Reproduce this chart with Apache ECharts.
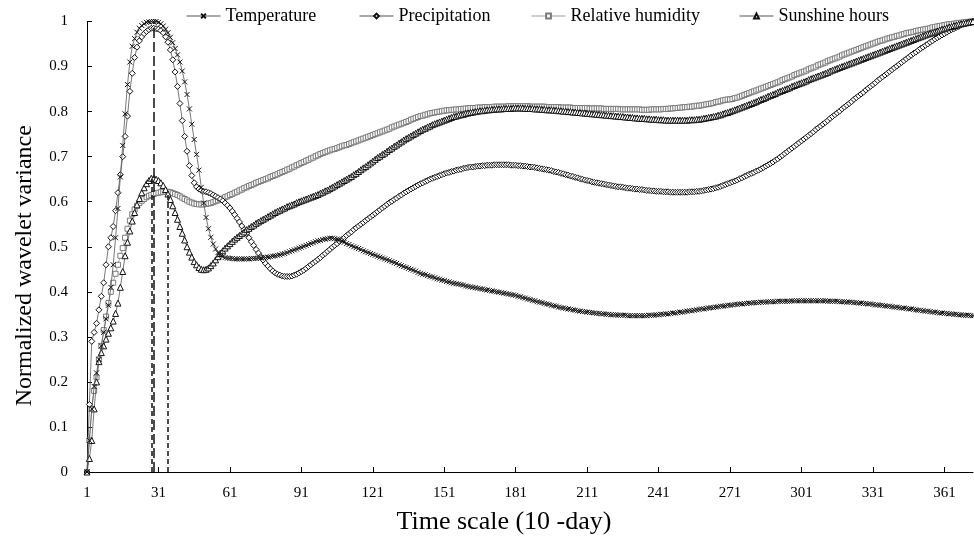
<!DOCTYPE html>
<html>
<head>
<meta charset="utf-8">
<script src="https://cdn.jsdelivr.net/npm/echarts@6/dist/echarts.min.js"></script>
<style>
  html, body { margin: 0; padding: 0; background: #ffffff; }
  #chart { width: 974px; height: 538px; }
</style>
</head>
<body>
<div id="chart"></div>
<script>
// Time scale in 10-day units: 1 .. 373
const timeScale = Array.from({ length: 373 }, (_, i) => String(i + 1));
const xTickLabels = ['1', '31', '61', '91', '121', '151', '181', '211', '241', '271', '301', '331', '361'];

// Normalized wavelet variance per climate variable
const temperature = [
  0, 0.07, 0.14, 0.19, 0.22, 0.25, 0.28, 0.31, 0.34, 0.37,
  0.41, 0.46, 0.52, 0.585, 0.655, 0.725, 0.795, 0.86, 0.91, 0.945,
  0.962, 0.976, 0.985, 0.991, 0.995, 0.998, 0.999, 1.0, 1.0, 1.0,
  0.998, 0.995, 0.99, 0.983, 0.975, 0.965, 0.953, 0.94, 0.926, 0.91,
  0.89, 0.866, 0.838, 0.806, 0.772, 0.738, 0.705, 0.67, 0.632, 0.597,
  0.565, 0.54, 0.521, 0.506, 0.495, 0.487, 0.482, 0.478, 0.476, 0.475,
  0.474, 0.474, 0.473, 0.473, 0.473, 0.473, 0.473, 0.473, 0.473, 0.474,
  0.474, 0.474, 0.475, 0.475, 0.476, 0.476, 0.477, 0.478, 0.479, 0.48,
  0.481, 0.482, 0.484, 0.485, 0.487, 0.489, 0.491, 0.493, 0.495, 0.497,
  0.499, 0.501, 0.503, 0.505, 0.507, 0.509, 0.511, 0.513, 0.514, 0.516,
  0.517, 0.518, 0.519, 0.519, 0.518, 0.517, 0.515, 0.513, 0.51, 0.507,
  0.505, 0.502, 0.5, 0.498, 0.496, 0.494, 0.491, 0.489, 0.487, 0.485,
  0.483, 0.481, 0.479, 0.477, 0.475, 0.473, 0.471, 0.469, 0.467, 0.465,
  0.463, 0.46, 0.458, 0.456, 0.454, 0.452, 0.45, 0.448, 0.446, 0.443,
  0.441, 0.439, 0.438, 0.436, 0.434, 0.433, 0.431, 0.429, 0.428, 0.426,
  0.425, 0.423, 0.422, 0.42, 0.419, 0.418, 0.417, 0.416, 0.415, 0.413,
  0.412, 0.411, 0.41, 0.409, 0.408, 0.407, 0.406, 0.405, 0.404, 0.403,
  0.402, 0.401, 0.4, 0.399, 0.398, 0.397, 0.396, 0.395, 0.394, 0.393,
  0.392, 0.39, 0.389, 0.387, 0.386, 0.384, 0.383, 0.381, 0.38, 0.378,
  0.377, 0.376, 0.374, 0.373, 0.372, 0.37, 0.369, 0.368, 0.366, 0.365,
  0.364, 0.363, 0.362, 0.361, 0.36, 0.359, 0.358, 0.357, 0.356, 0.356,
  0.355, 0.354, 0.354, 0.353, 0.352, 0.352, 0.351, 0.351, 0.35, 0.35,
  0.349, 0.349, 0.349, 0.348, 0.348, 0.348, 0.348, 0.347, 0.347, 0.347,
  0.347, 0.347, 0.347, 0.347, 0.347, 0.347, 0.348, 0.348, 0.348, 0.349,
  0.349, 0.35, 0.35, 0.351, 0.351, 0.352, 0.353, 0.353, 0.354, 0.355,
  0.355, 0.356, 0.357, 0.358, 0.358, 0.359, 0.36, 0.361, 0.362, 0.362,
  0.363, 0.364, 0.365, 0.365, 0.366, 0.367, 0.368, 0.368, 0.369, 0.37,
  0.37, 0.371, 0.372, 0.372, 0.373, 0.373, 0.374, 0.374, 0.375, 0.375,
  0.376, 0.376, 0.376, 0.377, 0.377, 0.377, 0.378, 0.378, 0.378, 0.378,
  0.379, 0.379, 0.379, 0.379, 0.379, 0.379, 0.38, 0.38, 0.38, 0.38,
  0.38, 0.38, 0.38, 0.38, 0.38, 0.38, 0.38, 0.38, 0.38, 0.38,
  0.38, 0.379, 0.379, 0.379, 0.379, 0.379, 0.378, 0.378, 0.378, 0.377,
  0.377, 0.377, 0.376, 0.376, 0.375, 0.375, 0.374, 0.374, 0.373, 0.373,
  0.372, 0.371, 0.371, 0.37, 0.37, 0.369, 0.368, 0.368, 0.367, 0.366,
  0.366, 0.365, 0.364, 0.364, 0.363, 0.362, 0.362, 0.361, 0.36, 0.359,
  0.359, 0.358, 0.357, 0.357, 0.356, 0.355, 0.355, 0.354, 0.353, 0.353,
  0.352, 0.352, 0.351, 0.351, 0.35, 0.35, 0.349, 0.349, 0.348, 0.348,
  0.348, 0.347, 0.347
];

const precipitation = [
  0, 0.15, 0.29, 0.31, 0.33, 0.36, 0.39, 0.42, 0.46, 0.50,
  0.52, 0.545, 0.58, 0.62, 0.66, 0.70, 0.745, 0.79, 0.845, 0.885,
  0.92, 0.943, 0.957, 0.966, 0.973, 0.978, 0.982, 0.985, 0.985, 0.984,
  0.983, 0.98, 0.975, 0.966, 0.954, 0.937, 0.915, 0.888, 0.856, 0.818,
  0.78, 0.745, 0.712, 0.68, 0.658, 0.642, 0.633, 0.628, 0.625, 0.623,
  0.622, 0.62, 0.618, 0.615, 0.612, 0.609, 0.606, 0.602, 0.597, 0.592,
  0.586, 0.579, 0.571, 0.563, 0.555, 0.546, 0.538, 0.529, 0.52, 0.511,
  0.503, 0.494, 0.486, 0.478, 0.47, 0.463, 0.457, 0.451, 0.446, 0.442,
  0.439, 0.437, 0.435, 0.434, 0.434, 0.434, 0.435, 0.437, 0.439, 0.442,
  0.445, 0.448, 0.452, 0.456, 0.46, 0.464, 0.468, 0.472, 0.476, 0.481,
  0.485, 0.49, 0.494, 0.499, 0.503, 0.507, 0.512, 0.516, 0.52, 0.525,
  0.529, 0.533, 0.538, 0.542, 0.546, 0.55, 0.554, 0.558, 0.562, 0.566,
  0.57, 0.574, 0.578, 0.582, 0.586, 0.59, 0.594, 0.598, 0.601, 0.605,
  0.608, 0.612, 0.615, 0.619, 0.622, 0.625, 0.628, 0.631, 0.634, 0.637,
  0.64, 0.642, 0.645, 0.647, 0.65, 0.652, 0.654, 0.656, 0.658, 0.66,
  0.662, 0.664, 0.665, 0.667, 0.668, 0.67, 0.671, 0.672, 0.674, 0.675,
  0.676, 0.677, 0.677, 0.678, 0.679, 0.679, 0.68, 0.68, 0.681, 0.681,
  0.681, 0.682, 0.682, 0.682, 0.682, 0.682, 0.682, 0.682, 0.681, 0.681,
  0.681, 0.68, 0.68, 0.679, 0.679, 0.678, 0.677, 0.677, 0.676, 0.675,
  0.674, 0.673, 0.672, 0.671, 0.67, 0.669, 0.667, 0.666, 0.665, 0.663,
  0.662, 0.66, 0.659, 0.657, 0.656, 0.654, 0.653, 0.651, 0.65, 0.648,
  0.647, 0.646, 0.644, 0.643, 0.642, 0.641, 0.64, 0.639, 0.638, 0.637,
  0.636, 0.635, 0.634, 0.633, 0.633, 0.632, 0.631, 0.63, 0.63, 0.629,
  0.628, 0.628, 0.627, 0.627, 0.626, 0.625, 0.625, 0.624, 0.624, 0.623,
  0.623, 0.623, 0.622, 0.622, 0.622, 0.621, 0.621, 0.621, 0.621, 0.621,
  0.621, 0.621, 0.621, 0.622, 0.622, 0.622, 0.623, 0.623, 0.624, 0.625,
  0.626, 0.627, 0.628, 0.629, 0.631, 0.632, 0.634, 0.636, 0.638, 0.64,
  0.642, 0.644, 0.646, 0.648, 0.651, 0.653, 0.656, 0.658, 0.661, 0.663,
  0.665, 0.668, 0.67, 0.673, 0.676, 0.679, 0.682, 0.685, 0.688, 0.692,
  0.695, 0.699, 0.703, 0.707, 0.711, 0.715, 0.719, 0.723, 0.727, 0.731,
  0.735, 0.739, 0.743, 0.747, 0.751, 0.755, 0.76, 0.764, 0.768, 0.772,
  0.776, 0.78, 0.785, 0.789, 0.793, 0.797, 0.801, 0.806, 0.81, 0.814,
  0.818, 0.822, 0.827, 0.831, 0.835, 0.839, 0.843, 0.848, 0.852, 0.856,
  0.86, 0.864, 0.869, 0.873, 0.877, 0.881, 0.885, 0.889, 0.893, 0.897,
  0.901, 0.905, 0.909, 0.913, 0.917, 0.921, 0.925, 0.929, 0.932, 0.936,
  0.94, 0.943, 0.947, 0.95, 0.954, 0.957, 0.961, 0.964, 0.967, 0.97,
  0.973, 0.976, 0.979, 0.982, 0.984, 0.987, 0.989, 0.992, 0.994, 0.996,
  0.998, 0.999, 1.0
];

const relativeHumidity = [
  0, 0.07, 0.14, 0.18, 0.21, 0.25, 0.28, 0.315, 0.345, 0.375,
  0.40, 0.42, 0.44, 0.46, 0.48, 0.497, 0.52, 0.54, 0.558, 0.572,
  0.583, 0.591, 0.597, 0.602, 0.606, 0.61, 0.613, 0.615, 0.617, 0.619,
  0.62, 0.621, 0.622, 0.622, 0.622, 0.621, 0.619, 0.617, 0.615, 0.612,
  0.609, 0.606, 0.603, 0.6, 0.598, 0.596, 0.595, 0.594, 0.594, 0.594,
  0.595, 0.596, 0.597, 0.599, 0.601, 0.603, 0.605, 0.607, 0.61, 0.612,
  0.615, 0.617, 0.62, 0.622, 0.625, 0.627, 0.63, 0.632, 0.635, 0.637,
  0.639, 0.642, 0.644, 0.646, 0.648, 0.65, 0.652, 0.655, 0.657, 0.659,
  0.661, 0.664, 0.666, 0.668, 0.671, 0.673, 0.676, 0.678, 0.681, 0.683,
  0.686, 0.688, 0.691, 0.693, 0.696, 0.698, 0.701, 0.703, 0.706, 0.708,
  0.71, 0.712, 0.714, 0.716, 0.717, 0.719, 0.721, 0.723, 0.725, 0.726,
  0.728, 0.73, 0.732, 0.734, 0.736, 0.738, 0.74, 0.742, 0.744, 0.746,
  0.748, 0.75, 0.752, 0.754, 0.756, 0.758, 0.76, 0.762, 0.765, 0.767,
  0.769, 0.771, 0.773, 0.775, 0.777, 0.779, 0.782, 0.784, 0.786, 0.788,
  0.79, 0.791, 0.793, 0.794, 0.796, 0.797, 0.798, 0.799, 0.8, 0.801,
  0.802, 0.803, 0.803, 0.804, 0.804, 0.805, 0.805, 0.806, 0.806, 0.807,
  0.807, 0.808, 0.808, 0.808, 0.809, 0.809, 0.809, 0.81, 0.81, 0.81,
  0.81, 0.811, 0.811, 0.811, 0.811, 0.811, 0.811, 0.812, 0.812, 0.812,
  0.812, 0.812, 0.812, 0.812, 0.812, 0.812, 0.811, 0.811, 0.811, 0.811,
  0.811, 0.811, 0.811, 0.81, 0.81, 0.81, 0.81, 0.81, 0.81, 0.809,
  0.809, 0.809, 0.809, 0.809, 0.808, 0.808, 0.808, 0.808, 0.808, 0.808,
  0.808, 0.807, 0.807, 0.807, 0.807, 0.807, 0.807, 0.806, 0.806, 0.806,
  0.806, 0.806, 0.806, 0.806, 0.805, 0.805, 0.805, 0.805, 0.805, 0.805,
  0.805, 0.805, 0.805, 0.804, 0.804, 0.804, 0.804, 0.805, 0.805, 0.805,
  0.805, 0.805, 0.806, 0.806, 0.806, 0.807, 0.807, 0.808, 0.808, 0.809,
  0.809, 0.81, 0.81, 0.811, 0.811, 0.812, 0.813, 0.813, 0.814, 0.815,
  0.816, 0.817, 0.818, 0.819, 0.821, 0.822, 0.823, 0.825, 0.826, 0.827,
  0.827, 0.828, 0.83, 0.831, 0.833, 0.835, 0.837, 0.839, 0.841, 0.843,
  0.845, 0.847, 0.849, 0.851, 0.853, 0.855, 0.857, 0.859, 0.861, 0.863,
  0.865, 0.867, 0.87, 0.872, 0.874, 0.876, 0.878, 0.881, 0.883, 0.885,
  0.887, 0.889, 0.891, 0.894, 0.896, 0.898, 0.9, 0.903, 0.905, 0.907,
  0.909, 0.912, 0.914, 0.916, 0.918, 0.92, 0.922, 0.925, 0.927, 0.929,
  0.931, 0.933, 0.935, 0.937, 0.939, 0.941, 0.943, 0.945, 0.947, 0.949,
  0.951, 0.953, 0.955, 0.957, 0.958, 0.96, 0.962, 0.963, 0.965, 0.966,
  0.968, 0.969, 0.971, 0.972, 0.974, 0.975, 0.976, 0.977, 0.979, 0.98,
  0.981, 0.982, 0.983, 0.984, 0.985, 0.987, 0.988, 0.989, 0.99, 0.991,
  0.992, 0.993, 0.994, 0.994, 0.995, 0.996, 0.997, 0.997, 0.998, 0.999,
  0.999, 1.0, 1.0
];

const sunshineHours = [
  0, 0.03, 0.07, 0.14, 0.2, 0.245, 0.265, 0.28, 0.295, 0.308,
  0.32, 0.335, 0.352, 0.375, 0.41, 0.445, 0.48, 0.51, 0.535, 0.557,
  0.576, 0.593, 0.607, 0.62, 0.631, 0.64, 0.647, 0.652, 0.652, 0.65,
  0.647, 0.642, 0.636, 0.627, 0.617, 0.605, 0.591, 0.576, 0.561, 0.545,
  0.53, 0.515, 0.5, 0.488, 0.477, 0.467, 0.46, 0.454, 0.45, 0.449,
  0.45, 0.453, 0.458, 0.464, 0.471, 0.478, 0.485, 0.491, 0.497, 0.502,
  0.507, 0.512, 0.517, 0.521, 0.525, 0.529, 0.533, 0.538, 0.541, 0.545,
  0.548, 0.552, 0.555, 0.558, 0.561, 0.564, 0.567, 0.57, 0.573, 0.576,
  0.579, 0.581, 0.584, 0.586, 0.589, 0.591, 0.593, 0.595, 0.598, 0.6,
  0.602, 0.604, 0.606, 0.608, 0.61, 0.612, 0.614, 0.616, 0.619, 0.621,
  0.624, 0.626, 0.629, 0.632, 0.635, 0.638, 0.641, 0.644, 0.647, 0.65,
  0.653, 0.656, 0.66, 0.663, 0.667, 0.671, 0.675, 0.678, 0.682, 0.686,
  0.69, 0.694, 0.698, 0.701, 0.705, 0.708, 0.712, 0.716, 0.719, 0.723,
  0.726, 0.73, 0.733, 0.737, 0.74, 0.743, 0.746, 0.749, 0.752, 0.755,
  0.758, 0.761, 0.763, 0.766, 0.768, 0.771, 0.773, 0.775, 0.777, 0.779,
  0.781, 0.783, 0.785, 0.787, 0.789, 0.79, 0.792, 0.793, 0.794, 0.796,
  0.797, 0.798, 0.799, 0.8, 0.801, 0.802, 0.802, 0.803, 0.804, 0.804,
  0.805, 0.805, 0.806, 0.806, 0.806, 0.807, 0.807, 0.807, 0.807, 0.808,
  0.808, 0.808, 0.808, 0.808, 0.807, 0.807, 0.807, 0.807, 0.806, 0.806,
  0.806, 0.805, 0.805, 0.804, 0.804, 0.804, 0.803, 0.803, 0.802, 0.802,
  0.801, 0.801, 0.8, 0.8, 0.799, 0.799, 0.798, 0.798, 0.797, 0.797,
  0.796, 0.796, 0.795, 0.795, 0.794, 0.794, 0.793, 0.793, 0.792, 0.792,
  0.791, 0.791, 0.79, 0.79, 0.789, 0.789, 0.788, 0.788, 0.787, 0.787,
  0.786, 0.786, 0.785, 0.785, 0.785, 0.784, 0.784, 0.783, 0.783, 0.783,
  0.782, 0.782, 0.782, 0.781, 0.781, 0.781, 0.781, 0.781, 0.781, 0.781,
  0.781, 0.781, 0.781, 0.782, 0.782, 0.782, 0.783, 0.783, 0.784, 0.785,
  0.786, 0.787, 0.788, 0.789, 0.79, 0.792, 0.793, 0.795, 0.797, 0.798,
  0.8, 0.802, 0.804, 0.806, 0.808, 0.81, 0.812, 0.814, 0.816, 0.818,
  0.82, 0.822, 0.825, 0.827, 0.829, 0.831, 0.834, 0.836, 0.838, 0.84,
  0.843, 0.845, 0.847, 0.849, 0.851, 0.853, 0.856, 0.858, 0.86, 0.862,
  0.864, 0.866, 0.868, 0.871, 0.873, 0.875, 0.877, 0.879, 0.881, 0.883,
  0.885, 0.887, 0.89, 0.892, 0.894, 0.896, 0.898, 0.9, 0.902, 0.904,
  0.906, 0.908, 0.91, 0.912, 0.914, 0.916, 0.918, 0.92, 0.922, 0.924,
  0.926, 0.928, 0.93, 0.932, 0.934, 0.936, 0.938, 0.94, 0.942, 0.944,
  0.946, 0.948, 0.95, 0.952, 0.954, 0.956, 0.958, 0.96, 0.962, 0.964,
  0.966, 0.968, 0.97, 0.972, 0.974, 0.975, 0.977, 0.979, 0.981, 0.983,
  0.984, 0.986, 0.988, 0.989, 0.991, 0.992, 0.994, 0.995, 0.996, 0.997,
  0.998, 0.999, 1.0
];

// Time scales (10-day) of the first variance peaks, marked with dashed drop lines
const peakScales = { sunshine: 28, temperature: 29, humidity: 35 };

const seriesNames = ['Temperature', 'Precipitation', 'Relative humidity', 'Sunshine hours'];

const FONT = '"Liberation Serif", "Times New Roman", serif';
const crossPath = 'path://M0,0L10,10M10,0L0,10';

function dropLine(scale, value, dash) {
  return [
    { coord: [scale - 1, 0], lineStyle: { type: dash } },
    { coord: [scale - 1, value] }
  ];
}

// one legend block per series so each entry sits at its own spot along the top
const legendLefts = [181, 354, 526, 734];
const legends = seriesNames.map((name, i) => ({
  top: 2,
  left: legendLefts[i],
  itemWidth: 34,
  itemHeight: 6,
  lineStyle: { width: 1 },
  textStyle: { fontFamily: FONT, fontSize: 18, color: '#000' },
  data: [name]
}));

const chart = echarts.init(document.getElementById('chart'), null, { renderer: 'canvas' });

chart.setOption({
  animation: false,
  backgroundColor: '#ffffff',
  textStyle: { fontFamily: FONT, color: '#000' },
  grid: { left: 87, right: 1, top: 21.5, bottom: 66, outerBoundsMode: 'none' },
  legend: legends,
  xAxis: {
    type: 'category',
    data: timeScale,
    boundaryGap: false,
    name: 'Time scale (10 -day)',
    nameLocation: 'middle',
    nameGap: 37,
    nameTextStyle: { fontFamily: FONT, fontSize: 26, color: '#000', padding: [0, 52, 0, 0] },
    axisLine: { lineStyle: { color: '#000', width: 1 } },
    axisTick: {
      inside: true,
      length: 5,
      interval: (i, v) => xTickLabels.includes(v),
      lineStyle: { color: '#000' }
    },
    axisLabel: {
      interval: (i, v) => xTickLabels.includes(v),
      margin: 14,
      fontFamily: FONT,
      fontSize: 15,
      color: '#000'
    },
    splitLine: { show: false }
  },
  yAxis: {
    type: 'value',
    min: 0,
    max: 1,
    interval: 0.1,
    name: 'Normalized wavelet variance',
    nameLocation: 'middle',
    nameGap: 50,
    nameTextStyle: { fontFamily: FONT, fontSize: 24, color: '#000', padding: [0, 38, 0, 0] },
    axisLine: { show: true, lineStyle: { color: '#000', width: 1 } },
    axisTick: { show: true, inside: true, length: 5, lineStyle: { color: '#000' } },
    axisLabel: { margin: 19, fontFamily: FONT, fontSize: 15, color: '#000' },
    splitLine: { show: false }
  },
  series: [
    {
      name: seriesNames[0],
      type: 'line',
      data: temperature,
      showAllSymbol: true,
      symbol: crossPath,
      symbolSize: 5,
      itemStyle: { color: '#fff', borderColor: '#111', borderWidth: 1 },
      lineStyle: { color: '#555', width: 0.8 },
      markLine: {
        silent: true,
        symbol: ['none', 'none'],
        label: { show: false },
        lineStyle: { color: '#111', width: 1.5 },
        data: [
          dropLine(peakScales.sunshine, sunshineHours[peakScales.sunshine - 1], [5, 3]),
          dropLine(peakScales.temperature, temperature[peakScales.temperature - 1], [10, 4]),
          dropLine(peakScales.humidity, relativeHumidity[peakScales.humidity - 1], [5, 3])
        ]
      },
      z: 4
    },
    {
      name: seriesNames[1],
      type: 'line',
      data: precipitation,
      showAllSymbol: true,
      symbol: 'diamond',
      symbolSize: 6,
      itemStyle: { color: '#fff', borderColor: '#111', borderWidth: 1 },
      lineStyle: { color: '#555', width: 0.8 },
      z: 3
    },
    {
      name: seriesNames[2],
      type: 'line',
      data: relativeHumidity,
      showAllSymbol: true,
      symbol: 'rect',
      symbolSize: 5,
      itemStyle: { color: '#fff', borderColor: '#7a7a7a', borderWidth: 1 },
      lineStyle: { color: '#999', width: 0.8 },
      z: 2
    },
    {
      name: seriesNames[3],
      type: 'line',
      data: sunshineHours,
      showAllSymbol: true,
      symbol: 'triangle',
      symbolSize: 6,
      itemStyle: { color: '#fff', borderColor: '#111', borderWidth: 1 },
      lineStyle: { color: '#555', width: 0.8 },
      z: 3
    }
  ]
});
</script>
</body>
</html>
